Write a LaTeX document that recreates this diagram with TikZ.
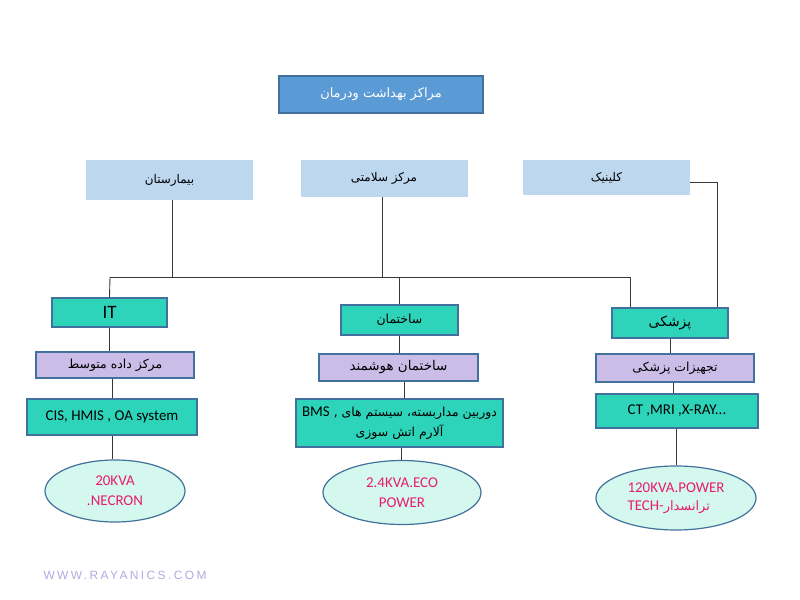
\documentclass[tikz,border=0pt]{standalone}
\usepackage{fontspec}
\setmainfont{Carlito}
\newfontfamily\arabicfont[Script=Arabic]{DejaVu Sans}
\newfontfamily\webfont[LetterSpace=20]{Liberation Sans}
\TeXXeTstate=1
\usetikzlibrary{shapes.geometric}

\definecolor{headblue}{RGB}{91,155,213}
\definecolor{edgeblue}{RGB}{65,113,156}
\definecolor{paleblue}{RGB}{189,215,238}
\definecolor{teal}{RGB}{46,212,185}
\definecolor{lilac}{RGB}{203,189,232}
\definecolor{mint}{RGB}{212,247,238}
\definecolor{upspink}{RGB}{232,28,110}
\definecolor{webgray}{RGB}{180,168,225}
\definecolor{wire}{RGB}{55,55,55}

% persian text, right to left
\newcommand{\fatext}[1]{{\arabicfont\beginR #1\endR}}

\begin{document}
\begin{tikzpicture}[
    x=1bp, y=-1bp,
    headbox/.style={draw=edgeblue, line width=1.2bp, fill=headblue, text=white, align=center, minimum width=204bp, minimum height=37bp, font=\fontsize{13}{15}\selectfont},
    typebox/.style={fill=paleblue, align=center, minimum width=167bp, minimum height=37bp, font=\fontsize{12}{14}\selectfont},
    unitbox/.style={draw=edgeblue, line width=1.2bp, fill=teal, align=center, minimum width=116bp, minimum height=30bp, font=\fontsize{12.5}{14}\selectfont},
    subbox/.style={draw=edgeblue, line width=1.2bp, fill=lilac, align=center, minimum width=158bp, minimum height=27bp, font=\fontsize{12.5}{14}\selectfont},
    sysbox/.style={draw=edgeblue, line width=1.2bp, fill=teal, align=center, minimum height=35bp, inner sep=2bp, font=\fontsize{15}{18}\selectfont},
    ups/.style={ellipse, draw=edgeblue, line width=1.2bp, fill=mint, text=upspink, align=center, inner sep=0pt, minimum width=140bp, minimum height=62bp, font=\fontsize{15}{20}\selectfont},
    line/.style={draw=wire, line width=0.9bp}
]
\useasboundingbox (0,0) rectangle (800,600);

\node[headbox] (center) at (381,94.5) {\fatext{مراکز بهداشت ودرمان}};

\node[typebox, minimum height=40bp] (hosp) at (169.5,180) {\fatext{بیمارستان}};
\node[typebox] (health) at (384,178.5) {\fatext{مرکز سلامتی}};
\node[typebox, minimum height=35bp] (clinic) at (606.5,177.5) {\fatext{کلینیک}};

\node[unitbox, minimum width=115bp, minimum height=29bp, font=\fontsize{19}{20}\selectfont] (it) at (109.5,312.5) {IT};
\node[unitbox, minimum width=117bp] (bldg) at (399.5,320) {\fatext{ساختمان}};
\node[unitbox, font=\fontsize{14}{16}\selectfont] (med) at (670,323) {\fatext{پزشکی}};

\node[subbox, minimum height=26bp] (dc) at (115,365) {\fatext{مرکز داده متوسط}};
\node[subbox, minimum width=159bp, font=\fontsize{13.5}{15}\selectfont] (smart) at (398.5,367.5) {\fatext{ساختمان هوشمند}};
\node[subbox, minimum height=28bp] (equip) at (675,368) {\fatext{تجهیزات پزشکی}};

\node[sysbox, minimum width=170bp, minimum height=36bp] (cis) at (112,417) {CIS, HMIS , OA system};
\node[sysbox, minimum width=207bp, minimum height=48bp, font=\fontsize{12.5}{20}\selectfont] (bms) at (399.5,423)
    {\fatext{دوربین مداربسته، سیستم های ,\ \beginL{\fontsize{15}{18}\rmfamily BMS}\endL}\\ \fatext{آلارم اتش سوزی}};
\node[sysbox, minimum width=162bp, minimum height=34bp] (ct) at (677,411) {CT ,MRI ,X-RAY...};

\node[ups] (ups1) at (115,491) {20KVA\\.NECRON};
\node[ups, minimum width=158bp, minimum height=64bp] (ups2) at (402,492.5) {2.4KVA.ECO\\POWER};
\node[ups, minimum width=160bp, minimum height=64bp, align=left, font=\fontsize{15}{18}\selectfont] (ups3) at (676,498) {120KVA.POWER\\TECH-{\fontsize{13}{18}\arabicfont\beginR ترانسدار\endR}};

\node[webgray, anchor=west, font=\webfont\fontsize{12}{14}\selectfont] (web) at (40,575) {WWW.RAYANICS.COM};

% bus between the two rows
\coordinate (busL) at (110,277);
\coordinate (busR) at (630,277);
\coordinate (clinicdrop) at (717,182);

\draw[line] (hosp.south -| 172,0) -- (busL -| 172,0);
\draw[line] (health.south -| 382,0) -- (busL -| 382,0);
\draw[line] (busL) -- (busR);
\draw[line] (busL) -- (it.north);
\draw[line] (bldg.north |- busL) -- (bldg.north);
\draw[line] (busR) -- (busR |- med.north);
\draw[line] (clinic.east |- clinicdrop) -- (clinicdrop) -- (clinicdrop |- med.north);

% columns
\draw[line] (it.south) -- (it.south |- dc.north);
\draw[line] (dc.south -| 112,0) -- (cis.north -| 112,0);
\draw[line] (cis.south -| 112,0) -- (ups1.north -| 112,0);
\draw[line] (bldg.south) -- (bldg.south |- smart.north);
\draw[line] (smart.south -| 404,0) -- (bms.north -| 404,0);
\draw[line] (bms.south -| 401,0) -- (ups2.north -| 401,0);
\draw[line] (med.south) -- (med.south |- equip.north);
\draw[line] (equip.south -| 673,0) -- (ct.north -| 673,0);
\draw[line] (ct.south -| 676,0) -- (ups3.north -| 676,0);
\end{tikzpicture}
\end{document}
